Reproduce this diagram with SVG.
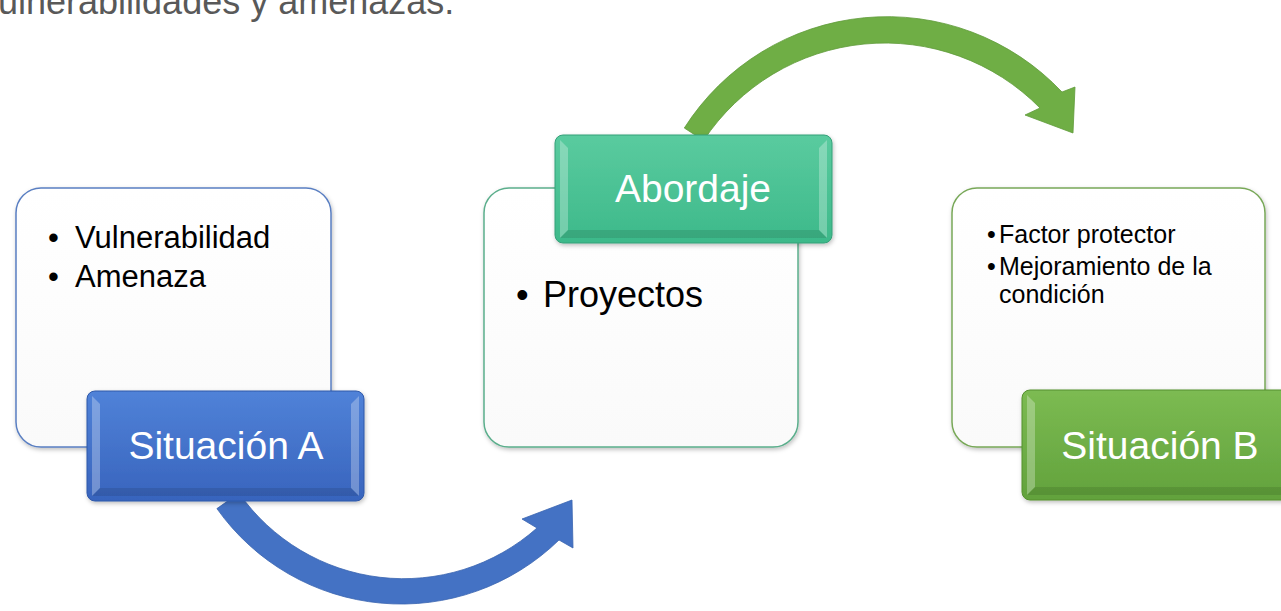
<svg xmlns="http://www.w3.org/2000/svg" width="1281" height="611" viewBox="0 0 1281 611">
  <defs>
    <linearGradient id="gBoxFill" x1="0" y1="0" x2="0" y2="1">
      <stop offset="0" stop-color="#ffffff"/>
      <stop offset="1" stop-color="#fafafa"/>
    </linearGradient>
    <linearGradient id="gBlue" x1="0" y1="0" x2="0" y2="1">
      <stop offset="0" stop-color="#5082d8"/>
      <stop offset="1" stop-color="#3864bd"/>
    </linearGradient>
    <linearGradient id="gTeal" x1="0" y1="0" x2="0" y2="1">
      <stop offset="0" stop-color="#5acb9f"/>
      <stop offset="1" stop-color="#3db98a"/>
    </linearGradient>
    <linearGradient id="gGreen" x1="0" y1="0" x2="0" y2="1">
      <stop offset="0" stop-color="#7cbb52"/>
      <stop offset="1" stop-color="#62a23c"/>
    </linearGradient>
    <filter id="shadow" x="-10%" y="-10%" width="125%" height="125%">
      <feDropShadow dx="1" dy="2" stdDeviation="2" flood-color="#000000" flood-opacity="0.25"/>
    </filter>
  </defs>
  <style>
    .title { font-family: "Liberation Sans", Arial, sans-serif; font-size: 36px; fill: #595959; }
    .box { fill: url(#gBoxFill); stroke-width: 1.5; filter: url(#shadow); }
    .lbl { stroke-width: 1; filter: url(#shadow); }
    .lbltext { font-family: "Liberation Sans", Arial, sans-serif; font-size: 39px; fill: #ffffff; text-anchor: middle; }
    .body { font-family: "Liberation Sans", Arial, sans-serif; fill: #000000; }
    .hl { fill: #ffffff; opacity: 0.28; }
    .sh { fill: #000000; opacity: 0.10; }
  </style>

  <text class="title" x="-2" y="14">ulnerabilidades y amenazas.</text>

  <g id="connectors">
    <path id="arrow-blue" d="M 216.9 508.6 A 226 226 0 0 0 559 540 L 573 548 L 572 500 L 522 519 L 537 528 A 201 201 0 0 1 239 493.1 Z" fill="#4472c4" stroke="#3a64b0" stroke-width="0.8"/>
    <path id="arrow-green" d="M 684.3 128 A 240.5 240.5 0 0 1 1062 92 L 1075 87 L 1073 133 L 1025 115 L 1040 108 A 217.5 217.5 0 0 0 703.6 140.5 Z" fill="#6fae45" stroke="#5f9a3a" stroke-width="0.8"/>
  </g>

  <g id="situacion-a">
    <rect class="box" x="16" y="188" width="315" height="259" rx="25" stroke="#5a7fc2"/>
    <text class="body" font-size="31" x="48" y="248">•</text>
    <text class="body" font-size="31" x="75" y="248">Vulnerabilidad</text>
    <text class="body" font-size="31" x="48" y="287">•</text>
    <text class="body" font-size="31" x="75" y="287">Amenaza</text>
    <rect class="lbl" x="87" y="391" width="277" height="110" rx="8" fill="url(#gBlue)" stroke="#2f58a8"/>
    <polygon class="hl" points="92,396 100,404 100,488 92,496"/>
    <polygon class="hl" points="359,396 351,404 351,488 359,496"/>
    <polygon class="sh" points="92,496 100,488 351,488 359,496"/>
    <text class="lbltext" x="226" y="459">Situación A</text>
  </g>

  <g id="abordaje">
    <rect class="box" x="484" y="188" width="314" height="259" rx="25" stroke="#5bae8c"/>
    <text class="body" font-size="36" x="516" y="307">•</text>
    <text class="body" font-size="36" x="543" y="307">Proyectos</text>
    <rect class="lbl" x="555" y="135" width="277" height="108" rx="8" fill="url(#gTeal)" stroke="#34a079"/>
    <polygon class="hl" points="560,140 568,148 568,230 560,238"/>
    <polygon class="hl" points="827,140 819,148 819,230 827,238"/>
    <polygon class="sh" points="560,238 568,230 819,230 827,238"/>
    <text class="lbltext" x="693" y="202">Abordaje</text>
  </g>

  <g id="situacion-b">
    <rect class="box" x="952" y="188" width="313" height="259" rx="25" stroke="#78a858"/>
    <text class="body" font-size="25" x="987" y="243">•</text>
    <text class="body" font-size="25" x="999" y="243">Factor protector</text>
    <text class="body" font-size="25" x="987" y="275">•</text>
    <text class="body" font-size="25" x="999" y="275">Mejoramiento de la</text>
    <text class="body" font-size="25" x="999" y="303">condición</text>
    <rect class="lbl" x="1022" y="390" width="277" height="110" rx="8" fill="url(#gGreen)" stroke="#55902f"/>
    <polygon class="hl" points="1027,395 1035,403 1035,487 1027,495"/>
    <polygon class="sh" points="1027,495 1035,487 1281,487 1281,495"/>
    <text class="lbltext" x="1160" y="459">Situación B</text>
  </g>
</svg>
